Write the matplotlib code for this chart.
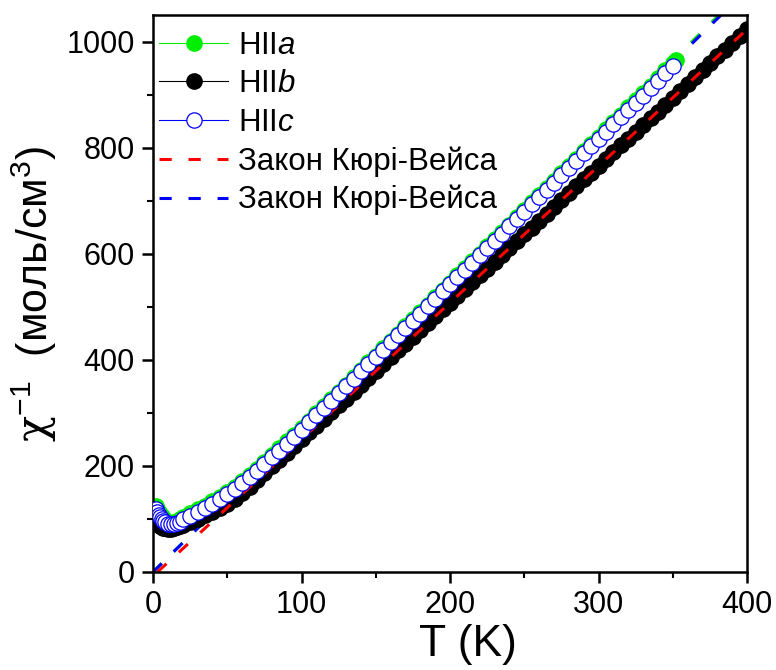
import matplotlib
matplotlib.use('Agg')
import matplotlib.pyplot as plt
from matplotlib.ticker import MultipleLocator

plt.rcParams['font.family'] = ['Liberation Sans', 'DejaVu Sans']
plt.rcParams['mathtext.fontset'] = 'custom'
plt.rcParams['mathtext.rm'] = 'Liberation Sans'
plt.rcParams['mathtext.it'] = 'Liberation Sans:italic'
plt.rcParams['mathtext.sf'] = 'DejaVu Serif'

# температурна сітка (K)
T_low = [2, 3, 4, 5, 6, 7, 8, 10, 12, 14, 16, 18, 20]
T_mid = [25, 30, 35, 40, 45, 50, 55, 60, 65, 70, 75, 80, 85, 90, 95, 100,
         105, 110, 115, 120, 125, 130, 135, 140, 145, 150, 155, 160, 165, 170,
         175, 180, 185, 190, 195, 200, 205, 210, 215, 220, 225, 230, 235, 240,
         245, 250, 255, 260, 265, 270, 275, 280, 285, 290, 295, 300, 305, 310,
         315, 320, 325, 330, 335, 340, 345, 350]
T_high = [355, 360, 365, 370, 375, 380, 385, 390, 395, 400]

T_a = T_low + T_mid + [352]
T_b = T_low + T_mid + T_high
T_c = T_low + T_mid

# HIIa
chi_a = [124, 119, 114, 109, 105, 101, 98, 95, 93, 94, 96, 100, 104,
         111, 118, 125, 133, 142, 151, 161, 172, 183, 195, 207, 220, 233, 246, 259, 272,
         285, 299, 312, 326, 340, 353, 367, 381, 395, 408, 422, 436, 449, 463,
         477, 490, 504, 518, 532, 545, 559, 573, 586, 600, 614, 627, 641, 655,
         669, 682, 697, 711, 724, 738, 752, 765, 779, 793, 807, 820, 835, 849,
         862, 876, 890, 903, 917, 931, 946, 959, 966]

# HIIb
chi_b = [98, 93, 89, 86, 84, 83, 82, 81, 81, 82, 84, 86, 89,
         94, 100, 107, 114, 121, 129, 138, 149, 161, 173, 186, 199, 212, 225, 238, 251,
         263, 276, 289, 302, 315, 327, 340, 353, 366, 379, 392, 405, 418, 430,
         443, 456, 469, 482, 495, 508, 521, 533, 546, 559, 572, 585, 598, 611,
         624, 637, 649, 662, 675, 688, 701, 714, 727, 740, 752, 765, 778, 791,
         804, 817, 830, 843, 856, 868, 881, 894,
         907, 920, 933, 946, 959, 972, 984, 997, 1010, 1023]

# HIIc
chi_c = [118, 113, 108, 103, 99, 96, 94, 91, 90, 90, 92, 95, 99,
         106, 113, 121, 129, 138, 147, 157, 168, 179, 191, 203, 216, 229, 242, 255, 268,
         282, 296, 309, 323, 337, 350, 364, 378, 392, 405, 419, 433, 446, 460,
         474, 487, 501, 515, 529, 542, 556, 570, 583, 597, 611, 624, 638, 652,
         666, 679, 693, 707, 720, 734, 748, 761, 775, 789, 803, 816, 830, 844,
         857, 871, 885, 898, 912, 926, 940, 953]

# закон Кюрі-Вейса (кінцеві точки прямих)
cw_red_T = [3, 400]
cw_red = [0, 1023]
cw_blue_T = [0, 400]
cw_blue = [0, 1098]
cw_green_T = [0, 400]
cw_green = [0, 1102]

fig = plt.figure(figsize=(7.76, 6.7), dpi=100)
ax = fig.add_axes([0.1972, 0.1463, 0.7655, 0.8313])

ms = 11
dash = (4, 5.5)
ax.plot(cw_green_T, cw_green, '--', color='#00dd00', lw=2.2, dashes=dash,
        zorder=1.4)
l_cwb, = ax.plot(cw_blue_T, cw_blue, '--', color='#0000ff', lw=2.2,
                 dashes=dash, zorder=1.5)
l_a, = ax.plot(T_a, chi_a, '-o', color='#00ee00', lw=0.8, ms=ms,
               mfc='#00ee00', mec='#00ee00', zorder=2)
l_b, = ax.plot(T_b, chi_b, '-o', color='black', lw=0.8, ms=ms, mfc='black',
               mec='black', zorder=2.1)
l_cwr, = ax.plot(cw_red_T, cw_red, '--', color='#ff0000', lw=2.2,
                 dashes=dash, zorder=2.5)
l_c, = ax.plot(T_c, chi_c, '-o', color='#0000ff', lw=0.8, ms=ms, mfc='white',
               mec='#0000ff', mew=0.9, zorder=3)

handles = [l_a, l_b, l_c, l_cwr, l_cwb]
labels = ['HII$\\it{a}$', 'HII$\\it{b}$', 'HII$\\it{c}$',
          'Закон Кюрі-Вейса', 'Закон Кюрі-Вейса']
ax.legend(handles, labels, loc='upper left', bbox_to_anchor=(0.0, 0.983),
          frameon=False, fontsize=22.5, numpoints=1, handlelength=2.2,
          handletextpad=0.32, labelspacing=0.27, borderaxespad=0.15,
          borderpad=0.05)

ax.set_xlim(0, 400)
ax.set_ylim(0, 1050)
ax.xaxis.set_major_locator(MultipleLocator(100))
ax.xaxis.set_minor_locator(MultipleLocator(50))
ax.yaxis.set_major_locator(MultipleLocator(200))
ax.yaxis.set_minor_locator(MultipleLocator(100))
ax.tick_params(which='major', direction='out', length=8, width=1.8,
               labelsize=22, top=False, right=False, pad=5)
ax.tick_params(which='minor', direction='out', length=4.5, width=1.5,
               top=False, right=False)
for s in ax.spines.values():
    s.set_linewidth(1.8)

ax.set_xlabel('T (K)', fontsize=32)
ax.xaxis.set_label_coords(0.53, -0.093)
ax.set_ylabel('$\\mathsf{χ}^{-1}$  (моль/см$^{3}$)', fontsize=31,
              labelpad=6)

fig.savefig('out.png', dpi=100)
